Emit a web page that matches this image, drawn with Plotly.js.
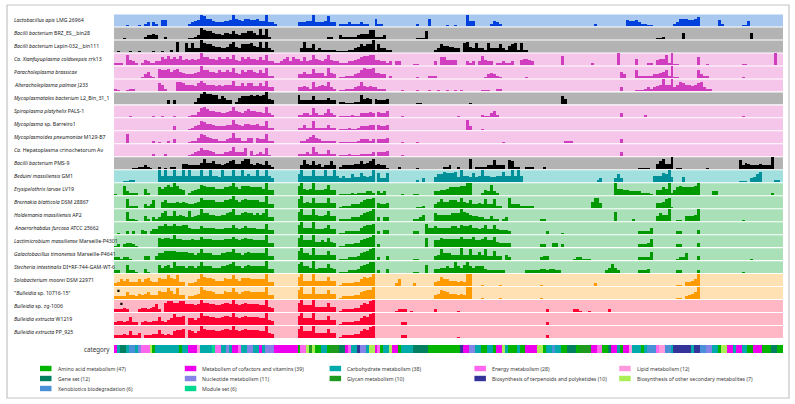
<!DOCTYPE html>
<html><head><meta charset="utf-8">
<script src="https://cdn.plot.ly/plotly-3.0.1.min.js"></script>
<style>html,body{margin:0;padding:0;background:#fff}#chart{width:795px;height:404px}</style>
</head><body><div id="chart"></div>
<script>
// ---------- data ----------
const genomes = [
  "<i>Lactobacillus apis</i> LMG 26964",
  "<i>Bacilli bacterium</i> BRZ_ES__bin28",
  "<i>Bacilli bacterium</i> Lapin-032__bin111",
  "<i>Ca.</i> <i>Xianfuyuplasma coldseepsis</i> zrk13",
  "<i>Paracholeplasma brassicae</i>",
  "<i>Alteracholeplasma palmae</i> J233",
  "<i>Mycoplasmatales bacterium</i> L2_Bin_31_1",
  "<i>Spiroplasma platyhelix</i> PALS-1",
  "<i>Mycoplasma</i> sp. Barreiro1",
  "<i>Mycoplasmoides pneumoniae</i> M129-B7",
  "<i>Ca.</i> Hepatoplasma crinochetorum Av",
  "<i>Bacilli bacterium</i> PMS-9",
  "<i>Beduini massiliensis</i> GM1",
  "<i>Erysipelothrix larvae</i> LV19",
  "<i>Breznakia blatticola</i> DSM 28867",
  "<i>Holdemania massiliensis</i> AP2",
  "<i>Anaerorhabdus furcosa</i> ATCC 25662",
  "<i>Lactimicrobium massiliense</i> Marseille-P4301",
  "<i>Galactobacillus timonensis</i> Marseille-P4641",
  "<i>Stecheria intestinalis</i> DI+RF-744-GAM-WT-6",
  "<i>Solobacterium moorei</i> DSM 22971",
  "\"<i>Bulleidia</i> sp. 10716-15\"",
  "<i>Bulleidia</i> sp. zg-1006",
  "<i>Bulleidia extructa</i> W1219",
  "<i>Bulleidia extructa</i> PP_925"
];
const rowGroup = ["blue","gray","gray","pink","pink","pink","gray","pink","pink","pink","pink","gray",
  "teal","green","green","green","green","green","green","green","orange","orange","red","red","red"];

// module completeness per genome, one digit (0-9) per module, 226 modules
const profiles = [
"0000100010230320550000000 234598664333445965466556449332 0000000 33344933348330 222322232200622000 00000000200060 00001001000944 000002432000000000 00000000000 00000000000200000000 0054453221100000002 3666556700000052 00000011400000000000",
"0001000000233430020000000 112397665443554643556653838200 0000000 00000000002200 322222344477222300 00000000111600 00000000000000 000000000000000000 00000000000 00000000000000000000 0000000000001120000 0050000000000000 00000000050000000000",
"0100010010000100100208007 373397665443346843666754838320 0000000 03833623222221 111223465669263322 00000000000000 23655443307843 733273336325672722 00000000000 00000000000000000000 0000000000000000000 0000000000000000 00000000000000000000",
"2220843202432233657565745 454596655465565843656554648332 2356365 53634854358433 222334567788443323 03300001100000 30664444000323 037433022322300455 43000000000 70000000002000000009 0000050002204558291 1000000600100000 00000011000000000900",
"0000000001352107667567543 334596655465565843656654648220 0000000 33533744428430 112223468778443302 00000000100022 20000000000000 000134321000000001 00000000000 00000000000000000000 5300062222233456291 1000000632200000 00000010000000000000",
"2100122000000006520007765 554686555454555844646644648330 0000000 33432734547320 112223474343322200 00010000100010 01001001010000 001110022000000000 00000000000 00000000000000000000 3000011123234595593 5765545673220000 00000000000000000000",
"0000000000000000003030000 002589887746533025666767679430 0000000 73333633335330 221112274540433340 00000000110000 00000000000010 000000000000000000 00000000000 64000000000000000000 0000000000000000000 0000000000000000 00000000000000000000",
"0000010000000100100010000 122478655443345854356554438320 0000000 22332732236320 111121133343043350 00010000000000 00000000100000 002113520000000000 00000000000 00000000000000000000 3000000020000000000 0000000000000000 00000010000000000000",
"0000000000000000000030000 123476554333344854355445337220 0000000 22422722224220 111211233344043340 00000000000000 00000000000830 001000000000000000 00000000000 00000000000000000000 0000000000000000000 0000000000000000 00000000000000000000",
"0000700000000201002030000 122476543322234844224404337220 0000000 02235643222220 111111233323033340 00010000100000 00000000000000 000000000100000000 00000000000 02220000000000000000 3000000000000000000 0000000000000000 00000000000000000000",
"0000000000000200020000000 123465543222334733360412326100 0000000 22232732225220 111211122223033340 00010000000000 00000000000000 000000000000000000 00000000000 00000000000000000000 3000000000000000000 0000000000000000 00000000000000000000",
"0000001122321002010220044 333358556443456744688435436320 0000000 03743634233630 233334464568343310 00200000100000 00022300200080 222233733307622002 22000200000 00000000000000000000 0000001111004684490 1100000000100000 00000735433343339000",
"0001122000000009595595595 955595595549555955956559559530 0000000 69555955595595 353364475459073370 00000000203000 46687778495547 459554455855959500 00000000000 00000000000023000036 3000000000055576940 0040000000000000 00000111034680000220",
"1007322200520006568697540 234587666555667965777666659440 0000000 79545944458440 111121222332032300 00010001100000 33445666677990 002438320000000000 00000000000 00000000000000000095 5443333222104465924 6766667900003300 00000000000000002000",
"0000722200323600564445454 334586666555667965676666559330 0000000 79454844448440 122233356778043340 00000000112000 35755666585463 343733722008333222 22000000000 00000000005884000000 0000000000004457810 0000000000000000 00000000000000000000",
"0000722100420323684484543 834596655445567955676656569330 0000000 79555954458440 222233356789030330 00000002235000 65555566697654 433224220230000000 00002200000 00000000000000000070 0000200000004655900 1104445900000000 00000010000000000000",
"0100202003202446686686677 544465555444555754565554448330 0000000 79555944457440 112222256778020330 00000002200855 65555566576675 545744743332000000 00000020000 10000000000000000000 0000002222500000000 2200000300000000 00000000000000000000",
"1202332100000007677696655 565586665555666865676655559330 0000000 79555944547430 112223356789020000 00000000000700 55766666686668 556855843333000000 00002200330 20000000000000000000 0000002223600000000 2200000300000000 00000000000000000000",
"2212210000330035577776666 554585554445566855456555559330 0000000 79554944447440 111222356789020030 00000001100000 34855544494484 464833733042000000 00002330000 00001221110000000000 0000002222600000000 1225000300000000 00000000010000000000",
"2200622100310006456485554 554585554445567855456555559330 0000000 78554934447430 111222356788020030 00000001100600 33445448546854 555322222200000002 22223323322 00000000000000024742 0000002223000000000 2200000200000000 00000010000000000000",
"2354533353564336558658330 223597665444655854666555559330 0000000 79444944447440 122223357679000000 02500002000000 34755444343990 001000001000000000 00001000000 00000000000200000000 0000000000000000000 1103345900000000 00000000000000000000",
"2222533243453336558648330 223497665444655854566555559330 0000000 79444944447440 122223356779000000 00000000000000 34765444343990 001000001000000000 00001000000 00000000000000000000 0000000000000000000 1102345900000000 00000000000000000000",
"2223200023323462078877886 665697766556776965676666559430 0000000 79555944447440 122223357689000000 01222010000000 20000000100000 000000000000000000 00000020000 00002210010000002000 0000000000000000000 0000000000000000 00000000000000000000",
"2332362202322336324586670 554597766556776965676666559430 0000000 79555944447440 122223357689000000 00022000000000 00000000000000 000000000000000000 00000020000 00000000000000000000 0000000000000000000 0000000000000000 00000000000000000000",
"2223252240222336323256670 654597666556776965676666559430 0000000 79555944447440 122223357689000000 00022000000000 00000000100000 000000000000000000 00000020000 00000000000000000000 0000000000000000000 0000000000000000 00000000000000000000"
];

// module category per column (A amino, C cofactors, H carbohydrate, E energy, L lipid, G gene set,
// N nucleotide, Y glycan, T terpenoids, S other secondary, X xenobiotics, M module set)
const categoryCodes =
 "C H GG H XX H N EEE S A HHHHHHHH A HH CCC L HHHH M EE HH N H CC E HH NN HH C H NNN CCCCCCCC " +
 "A EE S Y S AA HH A YYY GG C E HH T NN H SS C E A HH S CC A HHHH GGGGG AAAAAAAAAAA T CC NN HH " +
 "AA HH A CC S H AAA H AA CCCC SS A HH X HH AA GGG A YYYY CC EE AA G CC H A CC L HHH A H XXX E " +
 "LL XX H TTTTTT H TT XX NN HH A SS CC H CC HH AA CCC AAA GG AA";
const categoryKeys  = ["A","C","H","E","L","G","N","Y","T","S","X","M"];
const categoryNames = ["Amino acid metabolism","Metabolism of cofactors and vitamins","Carbohydrate metabolism",
  "Energy metabolism","Lipid metabolism","Gene set","Nucleotide metabolism","Glycan metabolism",
  "Biosynthesis of terpenoids and polyketides","Biosynthesis of other secondary metabolites",
  "Xenobiotics biodegradation","Module set"];
const categoryCounts = [47,39,38,28,12,12,11,10,10,7,6,6];

// small black marks
const markRows = [21, 22];
const markCols = [1, 2];

// ---------- styles ----------
const bandColor = {blue:"#a9c8f0", gray:"#b3b3b3", pink:"#f6c5ea", teal:"#a2e0e0", green:"#a9e0b8", orange:"#ffe1b3", red:"#ffb7c5"};
const barColor  = {blue:"#0040dc", gray:"#000000", pink:"#d13dbf", teal:"#00909a", green:"#009a00", orange:"#ff9a00", red:"#ff0033"};
const catColor  = {A:"#00b400", C:"#ee00ee", H:"#00aaaa", E:"#ff66ee", L:"#ff99dd", G:"#008060",
  N:"#8484e8", Y:"#1e9a1e", T:"#333399", S:"#aaee55", X:"#4a90d9", M:"#00d890"};

// ---------- geometry helpers ----------
const W = 795, H = 404, L = 114, R = 783, T = 14, B = 353;
const px2x = p => (p - L) / (R - L);
const py2y = p => 1 - (p - T) / (B - T);
const nRows = genomes.length;
const bandH = 0.92, bandOff = 0.04;

const traces = [];
const shapes = [];
const annotations = [];

profiles.forEach((s, i) => {
  const vals = s.replace(/\s+/g, "").split("").map(Number);
  if (vals.length !== 226) console.warn("row", i, "has", vals.length);
  const base = nRows - 1 - i + bandOff;
  const xs = [], ys = [];
  vals.forEach((v, k) => { if (v > 0) { xs.push(k); ys.push(v / 9 * bandH); } });
  traces.push({type: "bar", x: xs, y: ys, base: base, width: 1,
    marker: {color: barColor[rowGroup[i]], line: {width: 0}},
    showlegend: false, hoverinfo: "skip"});
  shapes.push({type: "rect", layer: "below", xref: "paper", yref: "y",
    x0: 0, x1: 1, y0: base, y1: base + bandH,
    fillcolor: bandColor[rowGroup[i]], line: {width: 0}});
  annotations.push({xref: "paper", yref: "y", x: px2x(12), y: base + bandH / 2,
    xanchor: "left", yanchor: "middle", showarrow: false, text: genomes[i],
    font: {family: "Noto Sans, DejaVu Sans, sans-serif", size: 5.2, color: "#1a1a1a"}});
});

// black marks
traces.push({type: "scatter", mode: "markers", x: markCols,
  y: markRows.map(r => nRows - 1 - r + bandOff + bandH * 0.68),
  marker: {color: "#000", size: 2.2, symbol: "square"}, showlegend: false, hoverinfo: "skip"});

// category strip
const codes = categoryCodes.replace(/\s+/g, "").split("");
if (codes.length !== 226) console.warn("categories", codes.length);
categoryKeys.forEach((key, j) => {
  const xs = [];
  codes.forEach((c, k) => { if (c === key) xs.push(k); });
  traces.push({type: "bar", x: xs, y: xs.map(() => 1), width: 1, yaxis: "y2",
    name: categoryNames[j], marker: {color: catColor[key], line: {width: 0}},
    showlegend: false, hoverinfo: "skip"});
});
annotations.push({xref: "paper", yref: "y2", x: px2x(112), y: 0.5, xanchor: "right", yanchor: "middle",
  showarrow: false, text: "category", font: {family: "Noto Sans, DejaVu Sans, sans-serif", size: 6.2, color: "#333"}});

// legend (5 columns)
categoryKeys.forEach((key, j) => {
  const col = j % 5, row = Math.floor(j / 5);
  const sx = 40 + col * 144.8, sy = 368.5 + row * 10;
  shapes.push({type: "rect", xref: "paper", yref: "paper",
    x0: px2x(sx), x1: px2x(sx + 11.5), y0: py2y(sy - 2.7), y1: py2y(sy + 2.7),
    fillcolor: catColor[key], line: {width: 0}});
  annotations.push({xref: "paper", yref: "paper", x: px2x(sx + 15.5), y: py2y(sy),
    xanchor: "left", yanchor: "middle", showarrow: false,
    text: categoryNames[j] + " (" + categoryCounts[j] + ")",
    font: {family: "Noto Sans, DejaVu Sans, sans-serif", size: 5.2, color: "#3a3a3a"}});
});

// outer frame
shapes.push({type: "rect", xref: "paper", yref: "paper",
  x0: px2x(7), x1: px2x(789), y0: py2y(398), y1: py2y(5),
  line: {color: "#c4c4c4", width: 1.2}, fillcolor: "rgba(0,0,0,0)"});

const layout = {
  width: W, height: H,
  margin: {l: L, r: W - R, t: T, b: H - B, pad: 0},
  paper_bgcolor: "#ffffff", plot_bgcolor: "rgba(0,0,0,0)",
  barmode: "overlay", bargap: 0,
  showlegend: false,
  xaxis: {range: [-0.5, 225.5], visible: false, fixedrange: true},
  yaxis: {domain: [py2y(338.5), 1], range: [0, nRows], visible: false, fixedrange: true},
  yaxis2: {domain: [0, py2y(345)], range: [0, 1], visible: false, fixedrange: true},
  shapes: shapes, annotations: annotations
};
Plotly.newPlot("chart", traces, layout, {displayModeBar: false, staticPlot: true});
</script>
</body></html>
